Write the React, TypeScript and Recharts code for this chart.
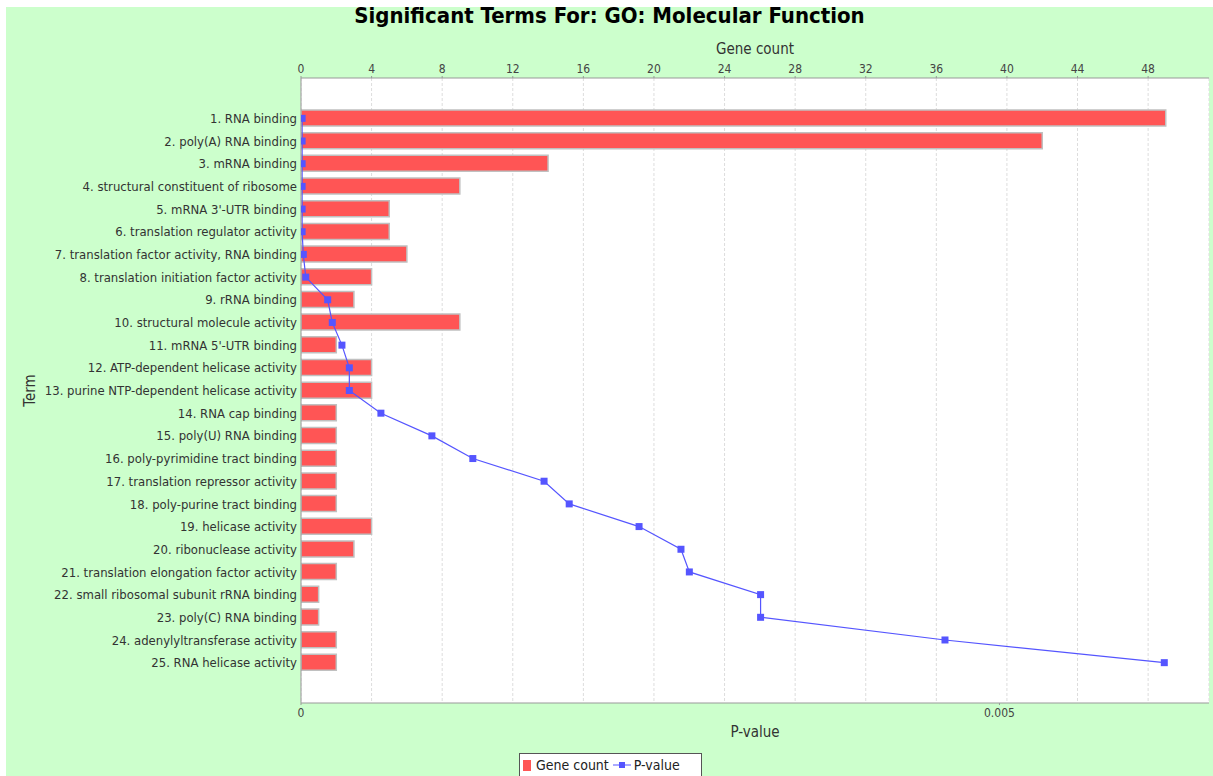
import React from "react";
import { ComposedChart, Bar, Line, XAxis, YAxis, CartesianGrid, Label } from "recharts";

const terms = [
  "1. RNA binding",
  "2. poly(A) RNA binding",
  "3. mRNA binding",
  "4. structural constituent of ribosome",
  "5. mRNA 3'-UTR binding",
  "6. translation regulator activity",
  "7. translation factor activity, RNA binding",
  "8. translation initiation factor activity",
  "9. rRNA binding",
  "10. structural molecule activity",
  "11. mRNA 5'-UTR binding",
  "12. ATP-dependent helicase activity",
  "13. purine NTP-dependent helicase activity",
  "14. RNA cap binding",
  "15. poly(U) RNA binding",
  "16. poly-pyrimidine tract binding",
  "17. translation repressor activity",
  "18. poly-purine tract binding",
  "19. helicase activity",
  "20. ribonuclease activity",
  "21. translation elongation factor activity",
  "22. small ribosomal subunit rRNA binding",
  "23. poly(C) RNA binding",
  "24. adenylyltransferase activity",
  "25. RNA helicase activity",
];

const geneCounts = [49, 42, 14, 9, 5, 5, 6, 4, 3, 9, 2, 4, 4, 2, 2, 2, 2, 2, 4, 3, 2, 1, 1, 2, 2];

const pValues = [
  0.000008, 0.000008, 0.000008, 0.000008, 0.000008, 0.000008, 0.0000165, 0.000034,
  0.000191, 0.000224, 0.000293, 0.000346, 0.000346, 0.000572, 0.000937, 0.00123,
  0.00174, 0.00192, 0.00242, 0.00272, 0.00278, 0.00329, 0.00329, 0.00461, 0.00618,
];

const countTicks = [0, 4, 8, 12, 16, 20, 24, 28, 32, 36, 40, 44, 48];
const pTicks = [0, 0.005];

const data = terms.map((term, i) => ({ term, count: geneCounts[i], p: pValues[i] }));

const FONT = "'DejaVu Sans Condensed', 'DejaVu Sans', sans-serif";
const BLUE = "#5555FF";
const RED = "#FF5555";

const Square = (props: any) => {
  const { cx, cy, index } = props;
  if (cx == null || cy == null) return <g key={index} />;
  return <rect key={index} x={cx - 3.5} y={cy - 3.5} width={7} height={7} fill={BLUE} />;
};

const TermLabel = (props: any) => {
  const vb = props.viewBox;
  const x = 24;
  const y = vb.y + vb.height / 2;
  return (
    <text x={x} y={y} transform={`rotate(-90, ${x}, ${y})`} textAnchor="middle" dominantBaseline="central"
      fontSize={15} fill="#333" fontFamily={FONT}>
      Term
    </text>
  );
};

export default function App() {
  return (
    <div style={{ position: "absolute", left: 6, top: 7, width: 1207, height: 769, background: "#CCFFCC", fontFamily: FONT }}>
      <div style={{ position: "absolute", left: 0, width: 1207, top: -4, textAlign: "center", fontWeight: "bold", fontSize: 22, color: "#000" }}>
        Significant Terms For: GO: Molecular Function
      </div>
      <ComposedChart width={1207} height={769} data={data} layout="vertical"
        margin={{ top: 41, right: 4, bottom: 43, left: 0 }} style={{ fontFamily: FONT }}>
        <CartesianGrid xAxisId="count" horizontal={false} stroke="#DDDDDD" strokeDasharray="3 2" fill="#FFFFFF" />
        <XAxis xAxisId="count" orientation="top" type="number" domain={[0, 51.45]} ticks={countTicks}
          height={30} tickSize={2} tickMargin={3} stroke="#999" tick={{ fontSize: 12, fill: "#444" }} allowDataOverflow>
          <Label value="Gene count" position="top" offset={-6} fontSize={15} fill="#333" />
        </XAxis>
        <XAxis xAxisId="p" orientation="bottom" type="number" domain={[0, 0.0065]} ticks={pTicks}
          height={30} tickSize={2} tickMargin={3} stroke="#999" tick={{ fontSize: 12, fill: "#444" }}
          tickFormatter={(v: number) => (v === 0 ? "0" : String(v))} allowDataOverflow>
          <Label value="P-value" position="bottom" offset={-7} fontSize={15} fill="#333" />
        </XAxis>
        <YAxis type="category" dataKey="term" width={295} padding={{ top: 29, bottom: 29 }}
          tickLine={false} tickSize={0} tickMargin={4} stroke="#999" interval={0}
          tick={{ fontSize: 13, fill: "#333" }}>
          <Label content={<TermLabel />} />
        </YAxis>
        <YAxis yAxisId="right" orientation="right" type="category" dataKey="term" width={0}
          tick={false} tickLine={false} stroke="#AAA" />
        <Bar xAxisId="count" dataKey="count" fill={RED} stroke="#C0C0C0" strokeWidth={1.5} barSize={16}
          isAnimationActive={false} />
        <Line xAxisId="p" dataKey="p" type="linear" stroke={BLUE} strokeWidth={1.2} dot={Square}
          activeDot={false} isAnimationActive={false} />
      </ComposedChart>
      <div style={{ position: "absolute", left: 513, top: 746, width: 183, height: 24, border: "1px solid #555",
        background: "#fff", display: "flex", alignItems: "center", fontSize: 14, color: "#222", boxSizing: "border-box", paddingLeft: 3, whiteSpace: "nowrap" }}>
        <span style={{ display: "inline-block", width: 8, height: 11, background: RED, marginRight: 5 }} />
        <span>Gene count</span>
        <svg width={18} height={10} style={{ marginLeft: 4, marginRight: 3 }}>
          <line x1={0} y1={5} x2={18} y2={5} stroke={BLUE} strokeWidth={1} />
          <rect x={6} y={2} width={6} height={6} fill={BLUE} />
        </svg>
        <span>P-value</span>
      </div>
    </div>
  );
}
